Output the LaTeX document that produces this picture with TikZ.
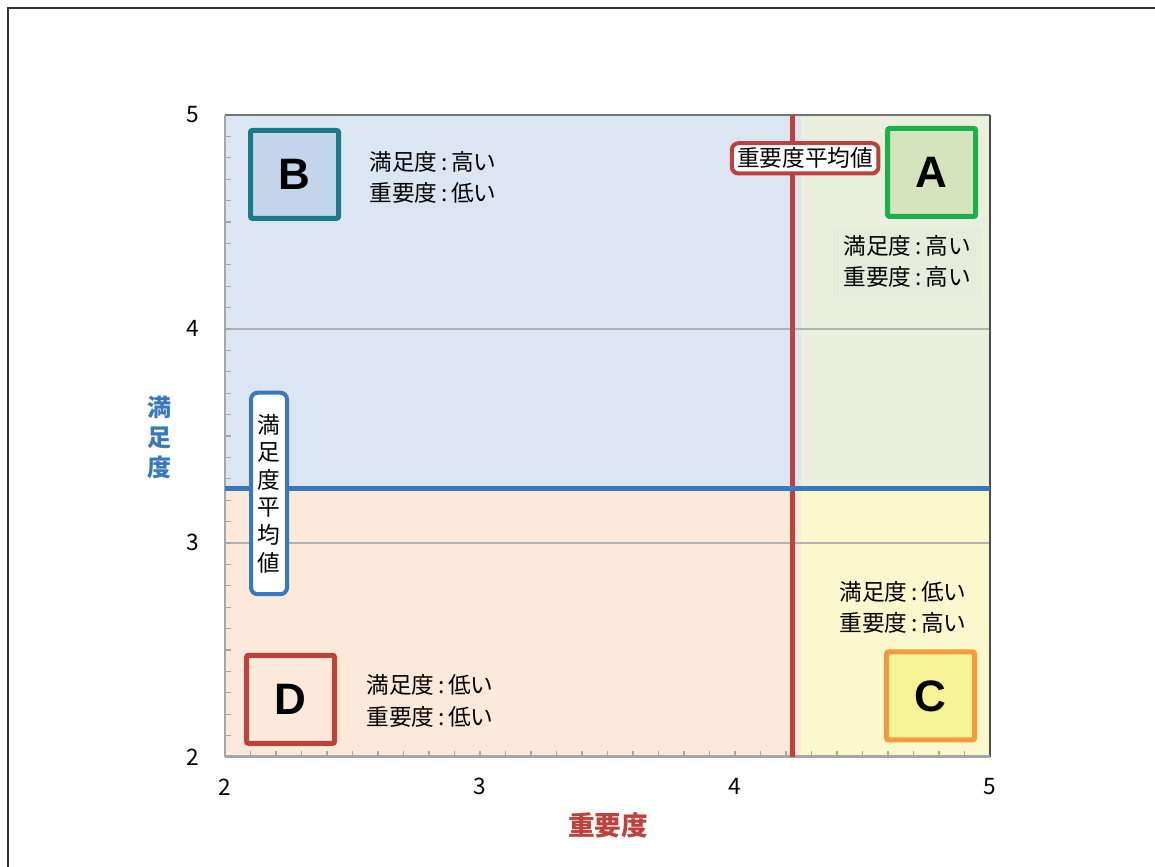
\documentclass[tikz,border=0pt]{standalone}
\usepackage{fontspec}
\setmainfont{Noto Sans CJK JP}
\newfontfamily\letterfont{Liberation Sans}

\definecolor{hiblue}{HTML}{DCE6F2}
\definecolor{higreen}{HTML}{EAEFDE}
\definecolor{lopeach}{HTML}{FDE9D9}
\definecolor{loyellow}{HTML}{FAF8CC}
\definecolor{avgred}{HTML}{C0403C}
\definecolor{avgblue}{HTML}{3A78BE}
\definecolor{teal}{HTML}{1B7A88}
\definecolor{agreen}{HTML}{1BB04A}
\definecolor{corange}{HTML}{F39A3A}
\definecolor{fillB}{HTML}{C3D6EC}
\definecolor{fillA}{HTML}{D5E4BC}
\definecolor{fillC}{HTML}{F6F396}

\begin{document}
\begin{tikzpicture}[x=191.25pt,y=160.5pt,
    every node/.style={font=\fontsize{17}{23.5}\selectfont},
    quadbox/.style={minimum size=66pt,inner sep=0pt,line width=3.75pt,rounded corners=1.5pt,
        font=\fontsize{33}{33}\selectfont\letterfont\bfseries},
    quadtext/.style={anchor=west,align=left,inner sep=2pt},
    avglabel/.style={fill=white,line width=3pt,rounded corners=5pt}]
    \useasboundingbox (1.1176,1.486) rectangle (5.647,5.537);

    % Outer frame
    \draw[black!80,line width=1.5pt] (1.149,1.486) -- (1.149,5.5) -- (5.647,5.5);

    % Quadrant backgrounds
    \fill[hiblue] (2,3.252) rectangle (4.26,5);
    \fill[higreen] (4.26,3.252) rectangle (5,5);
    \fill[lopeach] (2,2) rectangle (4.26,3.252);
    \fill[loyellow] (4.26,2) rectangle (5,3.252);

    % Grid lines
    \draw[gray!60,line width=1.3pt] (2,3) -- (5,3);
    \draw[gray!60,line width=1.3pt] (2,4) -- (5,4);

    % Axes and plot border
    \draw[black!55,line width=1.5pt] (2,5) -- (5,5);
    \draw[black!70,line width=1.5pt] (5,5) -- (5,2);
    \draw[black!35,line width=2pt] (2,2) -- (2,5);
    \draw[black!35,line width=2.2pt] (2,2) -- (5,2);
    \foreach \t in {1,...,29}
        \draw[black!35,line width=0.9pt] (2,2+\t/10) -- ++(4.5pt,0pt);
    \foreach \t in {1,...,29}
        \draw[black!35,line width=0.9pt] (2+\t/10,2) -- ++(0pt,4.5pt);

    % Tick labels
    \foreach \v in {2,...,5}
        \node (ylab\v) at (1.8745,\v) {\v};
    \foreach \v in {2,...,5}
        \node (xlab\v) at (\v,1.86) {\v};

    % Average lines
    \draw[avgred,line width=3.75pt] (4.227,2) -- (4.227,5);
    \draw[avgblue,line width=3.75pt] (2,3.252) -- (5,3.252);

    % Quadrant boxes
    \node[quadbox,draw=teal,fill=fillB] (boxB) at (2.2725,4.722) {B};
    \node[quadbox,draw=agreen,fill=fillA] (boxA) at (4.771,4.731) {A};
    \node[quadbox,draw=corange,fill=fillC] (boxC) at (4.767,2.285) {C};
    \node[quadbox,draw=avgred,fill=lopeach] (boxD) at (2.257,2.269) {D};

    % Quadrant descriptions
    \node[quadtext] (textB) at (2.555,4.708) {満足度\,:\,高い\\重要度\,:\,低い};
    \node[quadtext,fill=black!1.5!higreen,inner xsep=8pt,inner ysep=6pt] (textA) at (4.383,4.315) {満足度\,:\,高い\\重要度\,:\,高い};
    \node[quadtext] (textC) at (4.398,2.699) {満足度\,:\,低い\\重要度\,:\,高い};
    \node[quadtext] (textD) at (2.543,2.262) {満足度\,:\,低い\\重要度\,:\,低い};

    % Average labels
    \node[avglabel,draw=avgred,inner xsep=4pt,inner ysep=3.5pt] (avgx) at (4.275,4.797) {重要度平均値};
    \node[avglabel,draw=avgblue,align=center,inner xsep=5pt,inner ysep=16pt,
        font=\fontsize{17}{20.7}\selectfont] (avgy) at (2.1725,3.231) {満\\足\\度\\平\\均\\値};

    % Axis titles
    \node[avgblue,align=center,font=\fontsize{18}{22.5}\selectfont\bfseries] (ytitle) at (1.745,3.491) {満\\足\\度};
    \node[avgred,font=\fontsize{20}{24}\selectfont\bfseries] (xtitle) at (3.502,1.682) {重要度};
\end{tikzpicture}
\end{document}
